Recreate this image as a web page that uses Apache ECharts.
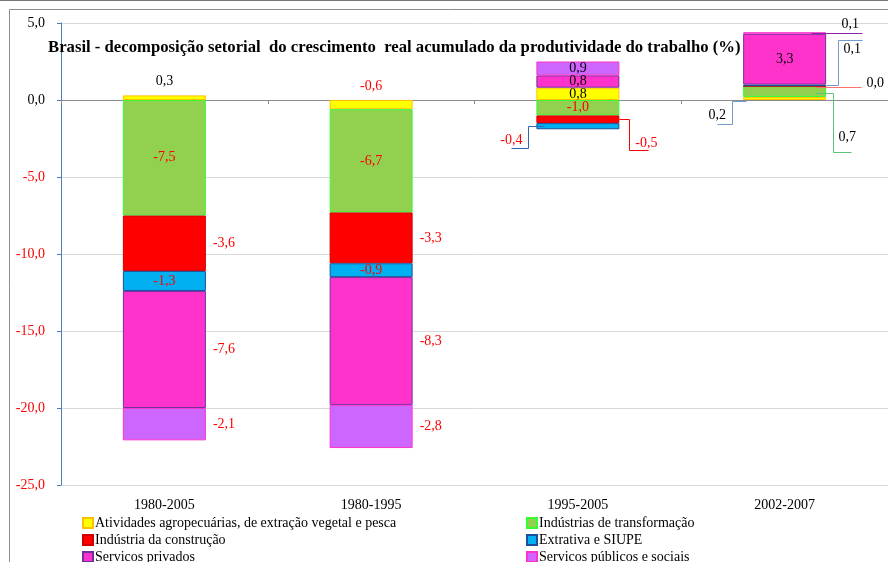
<!DOCTYPE html>
<html>
<head>
<meta charset="utf-8">
<script src="https://cdn.jsdelivr.net/npm/echarts@6/dist/echarts.min.js"></script>
<style>html,body{margin:0;padding:0;background:#fff}#c{width:888px;height:562px}</style>
</head>
<body>
<div id="c"></div>
<script>
// ---- data ----
const categories = ['1980-2005', '1980-1995', '1995-2005', '2002-2007'];
const agro   = [0.3, -0.6, 0.8, 0.2];
const transf = [-7.5, -6.7, -1.0, 0.7];
const constr = [-3.6, -3.3, -0.5, 0.0];
const extr   = [-1.3, -0.9, -0.4, 0.1];
const priv   = [-7.6, -8.3, 0.8, 3.3];
const pub    = [-2.1, -2.8, 0.9, 0.1];
const seriesNames = [
  'Atividades agropecuárias, de extração vegetal e pesca',
  'Indústrias de transformação',
  'Indústria da construção',
  'Extrativa e SIUPE',
  'Servicos privados',
  'Servicos públicos e sociais'
];
const yMin = -25, yMax = 5, yStep = 5;
const titleText = 'Brasil - decomposição setorial  do crescimento  real acumulado da produtividade do trabalho (%)';

// ---- styles / layout ----
const FONT = "'Liberation Serif', 'Times New Roman', serif";
const RED = '#ff0000';
const fills   = ['#ffff00', '#92d050', '#ff0000', '#00b0f0', '#ff33cc', '#cc66ff'];
const borders = ['#ffc000', '#33ff33', '#d00000', '#1f4e99', '#7030a0', '#ff33cc'];
const BAR_W = 83;
const labelPlace = [
  ['top', 'top', 'inside', 'leader'],
  ['inside', 'inside', 'inside', 'leader'],
  ['right', 'right', 'leader', 'leader'],
  ['inside', 'inside', 'leader', 'leader'],
  ['right', 'right', 'inside', 'inside'],
  ['right', 'right', 'inside', 'leader']
];
// legend placement per series: [left, top]
const legendPos = [[82, 516], [526, 516], [82, 533], [526, 533], [82, 550], [526, 550]];
// leader annotations: series index, category index, side (-1 left, 1 right), polyline offsets, label offset, colour
const leaders = [
  {s: 2, c: 2, side: 1,  pts: [[0,0],[10,0],[10,31],[29,31]], lab: [27,24], color: '#ff0000'},
  {s: 3, c: 2, side: -1, pts: [[8,0],[-8,0],[-8,22],[-25,22]], lab: [-25,14], color: '#3366aa'},
  {s: 5, c: 3, side: 1,  pts: [[-15,0],[36,0]], lab: [24,-9], color: '#8e24aa'},
  {s: 3, c: 3, side: 1,  pts: [[0,0],[12,0],[12,-45],[36,-45]], lab: [26,-36], color: '#6f9bd1'},
  {s: 2, c: 3, side: 1,  pts: [[-10,1],[35,1]], lab: [49,-3], color: '#ff7070'},
  {s: 1, c: 3, side: 1,  pts: [[-10,1],[7,1],[7,60],[25,60]], lab: [21,46], color: '#5cc47a'},
  {s: 0, c: 3, side: -1, pts: [[3,3],[-11,3],[-11,26],[-26,26]], lab: [-26,17], color: '#6f9bd1'}
];

const values = [agro, transf, constr, extr, priv, pub];
const fmt = v => Number(v).toFixed(1).replace('.', ',');

// compute stacked mid values (same-sign stacking)
const mids = values.map(() => []);
for (let c = 0; c < categories.length; c++) {
  let pos = 0, neg = 0;
  values.forEach((arr, s) => {
    const v = arr[c];
    if (v >= 0) { mids[s][c] = pos + v / 2; pos += v; }
    else { mids[s][c] = neg + v / 2; neg += v; }
  });
}

const barSeries = values.map((arr, s) => ({
  name: seriesNames[s],
  type: 'bar',
  stack: 'total',
  barWidth: BAR_W,
  xAxisIndex: 0,
  itemStyle: {color: fills[s], borderColor: borders[s], borderWidth: 1},
  data: arr.map((v, c) => {
    const p = labelPlace[s][c];
    return {
      value: v,
      label: {
        show: p !== 'leader',
        position: p,
        distance: 7,
        formatter: () => fmt(v),
        color: v < 0 ? RED : '#000',
        fontFamily: FONT,
        fontSize: 14
      }
    };
  })
}));

const leaderSeries = {
  type: 'custom',
  xAxisIndex: 0,
  yAxisIndex: 0,
  clip: false,
  silent: true,
  z: 10,
  data: leaders.map((l, i) => [l.c, mids[l.s][l.c], i]),
  renderItem: function (params, api) {
    const l = leaders[api.value(2)];
    const pt = api.coord([api.value(0), api.value(1)]);
    const x0 = pt[0] + l.side * BAR_W / 2;
    const y0 = pt[1];
    const v = values[l.s][l.c];
    return {
      type: 'group',
      children: [
        {
          type: 'polyline',
          shape: {points: l.pts.map(p => [Math.round(x0 + p[0]) + 0.5, Math.round(y0 + p[1]) + 0.5])},
          style: {stroke: l.color, lineWidth: 1, fill: null}
        },
        {
          type: 'text',
          style: {
            text: fmt(v),
            x: x0 + l.lab[0],
            y: y0 + l.lab[1],
            fill: v < 0 ? RED : '#000',
            font: '14px ' + FONT,
            align: 'center',
            verticalAlign: 'middle'
          }
        }
      ]
    };
  }
};

const legends = seriesNames.map((n, s) => ({
  data: [{name: n, icon: 'rect'}],
  orient: 'vertical', left: legendPos[s][0], top: legendPos[s][1],
  itemWidth: 10, itemHeight: 10, padding: 0,
  textStyle: {fontFamily: FONT, fontSize: 14, color: '#000', padding: [0, 0, 0, -3]},
  selectedMode: false
}));

const chart = echarts.init(document.getElementById('c'), null, {renderer: 'canvas'});
chart.setOption({
  backgroundColor: '#fff',
  animation: false,
  title: {
    text: titleText,
    left: 48,
    top: 39,
    padding: 0,
    textStyle: {fontFamily: FONT, fontSize: 16.7, fontWeight: 'bold', color: '#000'}
  },
  graphic: [
    {type: 'line', shape: {x1: 0, y1: 0.5, x2: 888, y2: 0.5}, style: {stroke: '#777', lineWidth: 1}, z: 100},
    {type: 'rect', shape: {x: 9.5, y: 9.5, width: 1000, height: 1000}, style: {stroke: '#8c8c8c', fill: null, lineWidth: 1}, z: 100}
  ],
  legend: legends,
  grid: {left: 61, right: 0, top: 23, bottom: 77, containLabel: false},
  xAxis: [
    {
      type: 'category', data: categories, position: 'bottom',
      axisLine: {onZero: true, lineStyle: {color: '#8c8c8c', width: 1}},
      axisTick: {show: true, length: 4, lineStyle: {color: '#8c8c8c'}},
      axisLabel: {show: false},
      splitLine: {show: false}
    },
    {
      type: 'category', data: categories, position: 'bottom',
      axisLine: {show: false, onZero: false},
      axisTick: {show: false},
      axisLabel: {show: true, margin: 13, fontFamily: FONT, fontSize: 14, color: '#000'},
      splitLine: {show: false}
    }
  ],
  yAxis: {
    type: 'value', min: yMin, max: yMax, interval: yStep,
    axisLine: {show: true, lineStyle: {color: '#4a7ebb', width: 1}},
    axisTick: {show: true, length: 4, lineStyle: {color: '#4a7ebb'}},
    axisLabel: {
      margin: 16, fontFamily: FONT, fontSize: 14,
      formatter: v => fmt(v),
      color: v => (Number(v) < 0 ? RED : '#000')
    },
    splitLine: {show: true, lineStyle: {color: '#d9d9d9', width: 1}}
  },
  series: [...barSeries, leaderSeries]
});
</script>
</body>
</html>
